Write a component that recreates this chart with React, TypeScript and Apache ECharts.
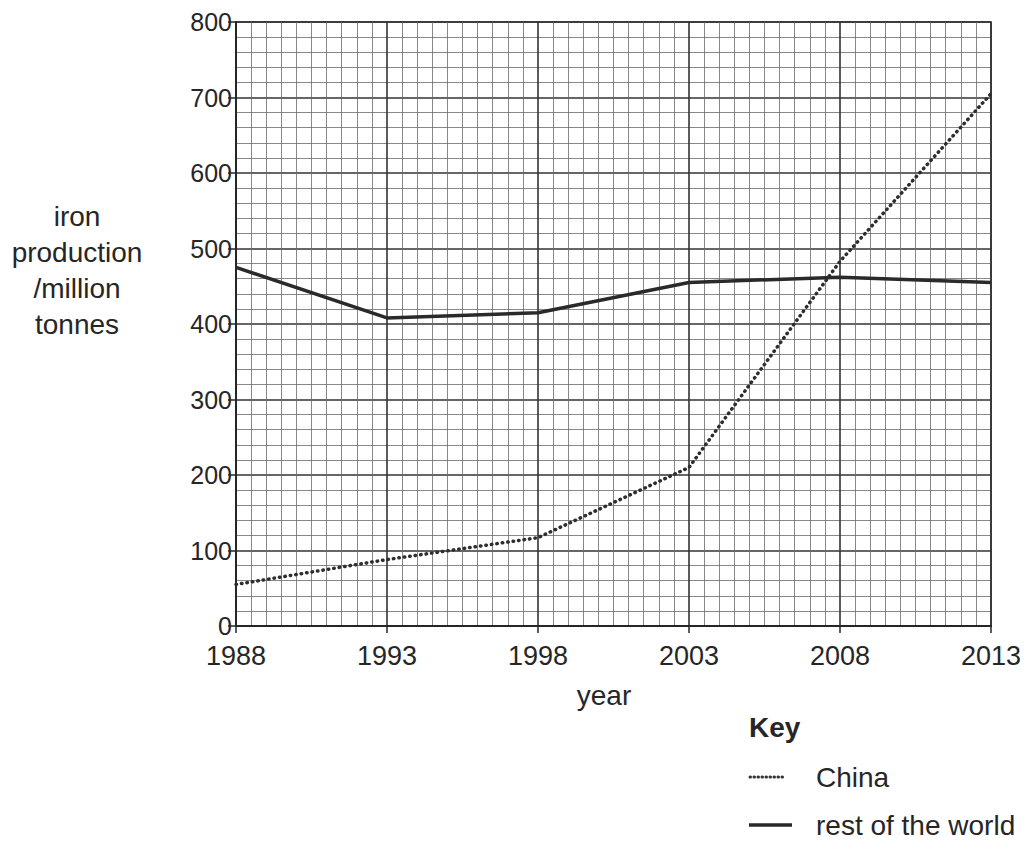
import React, { useEffect, useRef } from "react";
import * as echarts from "echarts";

const BASE_YEAR = 1988;
const years = [1988, 1993, 1998, 2003, 2008, 2013];
const chinaValues = [55, 88, 117, 210, 483, 705];
const restOfWorldValues = [475, 408, 415, 455, 462, 455];
const yTicks = [0, 100, 200, 300, 400, 500, 600, 700, 800];
const seriesNames = ["China", "rest of the world"];
const yTitleLines = ["iron", "production", "/million", "tonnes"];
const xTitle = "year";
const keyTitle = "Key";

const FONT = "'Liberation Sans', Arial, Helvetica, sans-serif";
const INK = "#262626";

export default function App() {
  const ref = useRef<HTMLDivElement>(null);

  useEffect(() => {
    if (!ref.current) return;
    const chart = echarts.init(ref.current, undefined, { renderer: "svg" });

    const toPoints = (vals: number[]) => years.map((y, i) => [y - BASE_YEAR, vals[i]]);

    const option: any = {
      animation: false,
      backgroundColor: "#ffffff",
      textStyle: { fontFamily: FONT },
      grid: {
        left: 236,
        right: 36,
        top: 22,
        bottom: 216,
        show: true,
        borderColor: INK,
        borderWidth: 1.5,
        backgroundColor: "transparent",
      },
      xAxis: {
        type: "value",
        min: 0,
        max: years[years.length - 1] - BASE_YEAR,
        interval: 5,
        axisLine: { show: true, onZero: false, lineStyle: { color: INK, width: 2 } },
        axisTick: { show: true, length: 7, lineStyle: { color: INK, width: 1.5 } },
        axisLabel: {
          margin: 16,
          color: INK,
          fontSize: 27,
          fontFamily: FONT,
          formatter: (v: number) => String(v + BASE_YEAR),
        },
        splitLine: { show: true, lineStyle: { color: "#333", width: 1.6 } },
        minorTick: { show: false, splitNumber: 10 },
        minorSplitLine: { show: true, lineStyle: { color: "#6a6a6a", width: 0.8 } },
      },
      yAxis: {
        type: "value",
        min: yTicks[0],
        max: yTicks[yTicks.length - 1],
        interval: 100,
        axisLine: { show: true, onZero: false, lineStyle: { color: INK, width: 2 } },
        axisTick: { show: true, length: 8, lineStyle: { color: INK, width: 1.5 } },
        axisLabel: {
          margin: 4,
          color: INK,
          fontSize: 25,
          fontFamily: FONT,
        },
        splitLine: { show: true, lineStyle: { color: "#333", width: 1.6 } },
        minorTick: { show: false, splitNumber: 5 },
        minorSplitLine: { show: true, lineStyle: { color: "#6a6a6a", width: 0.8 } },
      },
      series: [
        {
          name: seriesNames[0],
          type: "line",
          data: toPoints(chinaValues),
          symbol: "none",
          lineStyle: { color: "#2e2e2e", width: 3.5, type: [0.5, 5], cap: "round" },
          z: 5,
        },
        {
          name: seriesNames[1],
          type: "line",
          data: toPoints(restOfWorldValues),
          symbol: "none",
          lineStyle: { color: "#2a2a2a", width: 3.5 },
          z: 6,
        },
      ],
      graphic: [
        {
          type: "text",
          x: 77,
          y: 270,
          style: {
            text: yTitleLines.join("\n"),
            fontSize: 28,
            fontFamily: FONT,
            fill: INK,
            align: "center",
            verticalAlign: "middle",
            lineHeight: 36,
          },
        },
        {
          type: "text",
          x: 604,
          y: 695,
          style: {
            text: xTitle,
            fontSize: 28,
            fontFamily: FONT,
            fill: INK,
            align: "center",
            verticalAlign: "middle",
          },
        },
        {
          type: "text",
          x: 749,
          y: 727,
          style: {
            text: keyTitle,
            fontSize: 28,
            fontWeight: "bold",
            fontFamily: FONT,
            fill: INK,
            align: "left",
            verticalAlign: "middle",
          },
        },
        {
          type: "line",
          shape: { x1: 750, y1: 777, x2: 786, y2: 777 },
          style: { stroke: "#333", lineWidth: 3, lineDash: [0.5, 3.5], lineCap: "round" },
        },
        {
          type: "text",
          x: 816,
          y: 777,
          style: {
            text: seriesNames[0],
            fontSize: 28,
            fontFamily: FONT,
            fill: INK,
            align: "left",
            verticalAlign: "middle",
          },
        },
        {
          type: "line",
          shape: { x1: 749, y1: 825, x2: 792, y2: 825 },
          style: { stroke: "#2a2a2a", lineWidth: 3.5 },
        },
        {
          type: "text",
          x: 816,
          y: 825,
          style: {
            text: seriesNames[1],
            fontSize: 28,
            fontFamily: FONT,
            fill: INK,
            align: "left",
            verticalAlign: "middle",
          },
        },
      ],
    };

    chart.setOption(option);
    return () => chart.dispose();
  }, []);

  return (
    <div
      ref={ref}
      style={{ position: "fixed", left: 0, top: 0, width: 1027, height: 842, background: "#fff" }}
    />
  );
}
